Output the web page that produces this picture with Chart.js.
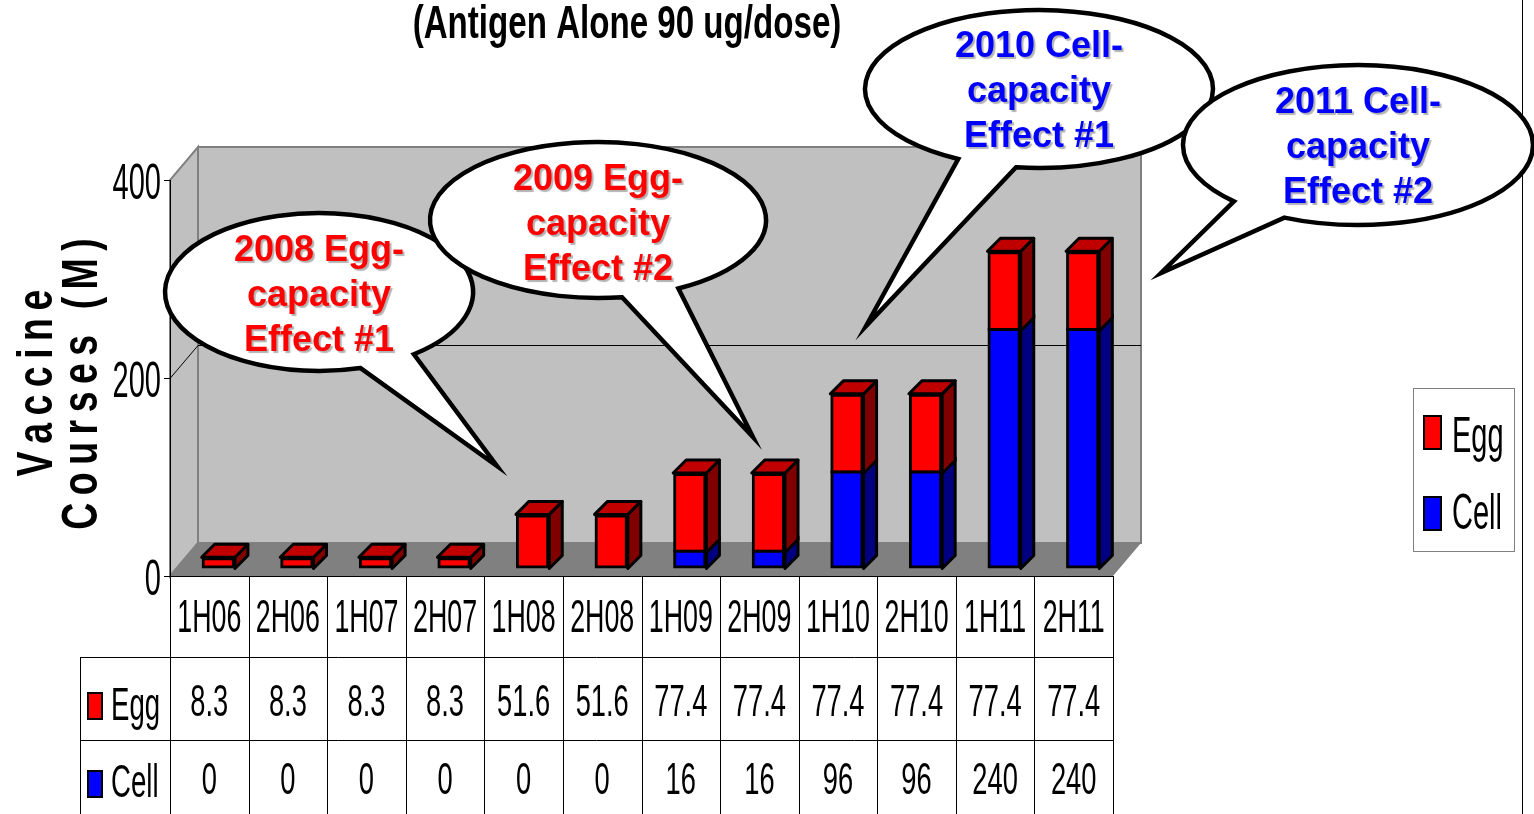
<!DOCTYPE html>
<html>
<head>
<meta charset="utf-8">
<script src="https://cdn.jsdelivr.net/npm/chart.js@4/dist/chart.umd.min.js"></script>
<style>
  html, body { margin: 0; padding: 0; background: #fff; }
  #wrap { width: 1534px; height: 814px; position: relative; }
</style>
</head>
<body>
<div id="wrap"><canvas id="coursesChart"></canvas></div>
<script>
// data
const periods = ['1H06', '2H06', '1H07', '2H07', '1H08', '2H08', '1H09', '2H09', '1H10', '2H10', '1H11', '2H11'];
const eggCourses = [8.3, 8.3, 8.3, 8.3, 51.6, 51.6, 77.4, 77.4, 77.4, 77.4, 77.4, 77.4];
const cellCourses = [0, 0, 0, 0, 0, 0, 16, 16, 96, 96, 240, 240];
const yTicks = [0, 200, 400];

const titleText = '(Antigen Alone 90 ug/dose)';
const yTitleLines = ['Vaccine', 'Courses (M)'];

// callouts
const bubbles = [
  { lines: ['2008 Egg-', 'capacity', 'Effect #1'], color: '#FF0000', cx: 319, cy: 292, rx: 154, ry: 79, base: [[360, 367], [412, 353]], tip: [497, 466], ty: 261 },
  { lines: ['2009 Egg-', 'capacity', 'Effect #2'], color: '#FF0000', cx: 598, cy: 220, rx: 168, ry: 78, base: [[622, 297], [679, 289]], tip: [753, 437], ty: 190 },
  { lines: ['2010 Cell-', 'capacity', 'Effect #1'], color: '#0000FF', cx: 1039, cy: 89, rx: 174, ry: 79, base: [[957, 160], [1017, 164]], tip: [866, 326], ty: 57 },
  { lines: ['2011 Cell-', 'capacity', 'Effect #2'], color: '#0000FF', cx: 1358, cy: 145, rx: 175, ry: 80, base: [[1237, 200], [1287, 215]], tip: [1161, 273], ty: 113 }
];

const sideColors = { Egg: '#800000', Cell: '#000080' };
const topColors = { Egg: '#C00000', Cell: '#0000C0' };

// 3d offsets
const WALL_DX = 28, WALL_DY = -33;
const BAR_DX = 9, BAR_DY = -9;
const DEPTH_DX = 13, DEPTH_DY = -13;

function narrowText(ctx, s, x, y, font, color, align, sx) {
  ctx.save();
  ctx.translate(x, y);
  ctx.scale(sx, 1);
  ctx.font = font;
  ctx.fillStyle = color;
  ctx.textAlign = align;
  ctx.textBaseline = 'alphabetic';
  ctx.fillText(s, 0, 0);
  ctx.restore();
}

// rotated, condensed and letter-spaced axis title
function spacedVertical(ctx, s, x, y, sx, gap) {
  ctx.save();
  ctx.translate(x, y);
  ctx.rotate(-Math.PI / 2);
  ctx.font = 'bold 50px "Liberation Sans", Arial';
  ctx.fillStyle = '#000';
  ctx.textAlign = 'left';
  const chars = s.split('');
  const widths = chars.map(c => ctx.measureText(c).width * sx);
  const total = widths.reduce((p, w) => p + w, 0) + gap * (chars.length - 1);
  let pos = -total / 2;
  chars.forEach((c, i) => {
    ctx.save();
    ctx.translate(pos, 0);
    ctx.scale(sx, 1);
    ctx.fillText(c, 0, 0);
    ctx.restore();
    pos += widths[i] + gap;
  });
  ctx.restore();
}

function drawFrame(chart) {
  const ctx = chart.ctx;
  const a = chart.chartArea;
  const xs = chart.scales.x, ys = chart.scales.y;
  const y0 = ys.getPixelForValue(yTicks[0]);
  const yTop = ys.getPixelForValue(yTicks[yTicks.length - 1]);

  ctx.save();
  // title
  narrowText(ctx, titleText, 627, 38, 'bold 46px "Liberation Sans", Arial', '#000', 'center', 0.72);

  // side wall
  ctx.fillStyle = '#C0C0C0';
  ctx.strokeStyle = '#808080';
  ctx.lineWidth = 2;
  ctx.beginPath();
  ctx.moveTo(a.left, y0);
  ctx.lineTo(a.left, yTop);
  ctx.lineTo(a.left + WALL_DX, yTop + WALL_DY);
  ctx.lineTo(a.left + WALL_DX, y0 + WALL_DY);
  ctx.closePath();
  ctx.fill();
  ctx.stroke();
  // back wall
  ctx.beginPath();
  ctx.rect(a.left + WALL_DX, yTop + WALL_DY, a.right - a.left, y0 - yTop);
  ctx.fill();
  ctx.stroke();
  // floor
  ctx.fillStyle = '#808080';
  ctx.beginPath();
  ctx.moveTo(a.left, y0);
  ctx.lineTo(a.left + WALL_DX, y0 + WALL_DY);
  ctx.lineTo(a.right + WALL_DX, y0 + WALL_DY);
  ctx.lineTo(a.right, y0);
  ctx.closePath();
  ctx.fill();

  // inner grid lines
  ctx.strokeStyle = '#000';
  ctx.lineWidth = 1;
  yTicks.slice(1, -1).forEach(v => {
    const py = Math.round(ys.getPixelForValue(v)) + 0.5;
    ctx.beginPath();
    ctx.moveTo(a.left, py);
    ctx.lineTo(a.left + WALL_DX, py + WALL_DY);
    ctx.lineTo(a.right + WALL_DX, py + WALL_DY);
    ctx.stroke();
  });

  // y axis + ticks
  ctx.beginPath();
  ctx.moveTo(a.left + 0.5, yTop);
  ctx.lineTo(a.left + 0.5, 814);
  ctx.stroke();
  yTicks.forEach(v => {
    const py = Math.round(ys.getPixelForValue(v)) + 0.5;
    ctx.beginPath();
    ctx.moveTo(a.left - 6, py);
    ctx.lineTo(a.left, py);
    ctx.stroke();
    narrowText(ctx, String(v), a.left - 9, py + 18, '50px "Liberation Sans", Arial', '#000', 'right', 0.58);
  });

  // y title
  spacedVertical(ctx, yTitleLines[0], 52, 383, 0.75, 7.5);
  spacedVertical(ctx, yTitleLines[1], 97, 384, 0.75, 7.5);

  // data table
  const n = periods.length;
  const colW = (a.right - a.left) / n;
  const rowTop = y0, row1 = 657, row2 = 740, rowBot = 814;
  ctx.strokeStyle = '#000';
  ctx.lineWidth = 1;
  ctx.beginPath();
  ctx.moveTo(a.left, rowTop + 0.5);
  ctx.lineTo(a.right, rowTop + 0.5);
  [row1, row2].forEach(r => {
    ctx.moveTo(80, r + 0.5);
    ctx.lineTo(a.right, r + 0.5);
  });
  for (let i = 0; i <= n; i++) {
    const px = Math.round(a.left + i * colW) + 0.5;
    ctx.moveTo(px, rowTop);
    ctx.lineTo(px, rowBot);
  }
  ctx.moveTo(80.5, row1);
  ctx.lineTo(80.5, rowBot);
  ctx.stroke();

  const eggDs = chart.data.datasets[1], cellDs = chart.data.datasets[0];
  periods.forEach((p, i) => {
    const cx = xs.getPixelForValue(i);
    narrowText(ctx, p, cx, 632, '47px "Liberation Sans", Arial', '#000', 'center', 0.57);
    narrowText(ctx, String(eggDs.data[i]), cx, 716, '44px "Liberation Sans", Arial', '#000', 'center', 0.62);
    narrowText(ctx, String(cellDs.data[i]), cx, 794, '44px "Liberation Sans", Arial', '#000', 'center', 0.62);
  });

  // row labels with swatches
  [[eggDs, 693, 720], [cellDs, 771, 797]].forEach(([ds, sy, by]) => {
    ctx.fillStyle = ds.backgroundColor;
    ctx.fillRect(88, sy, 14, 26);
    ctx.lineWidth = 2;
    ctx.strokeStyle = '#000';
    ctx.strokeRect(88, sy, 14, 26);
    narrowText(ctx, ds.label, 111, by, '46px "Liberation Sans", Arial', '#000', 'left', 0.6);
  });

  // legend
  ctx.lineWidth = 1;
  ctx.strokeStyle = '#808080';
  ctx.strokeRect(1413.5, 388.5, 101, 163);
  [[eggDs, 416, 452], [cellDs, 497, 529]].forEach(([ds, sy, by]) => {
    ctx.fillStyle = ds.backgroundColor;
    ctx.fillRect(1424, sy, 17, 33);
    ctx.lineWidth = 2;
    ctx.strokeStyle = '#000';
    ctx.strokeRect(1424, sy, 17, 33);
    narrowText(ctx, ds.label, 1452, by, '50px "Liberation Sans", Arial', '#000', 'left', 0.58);
  });

  // page edge line
  ctx.lineWidth = 1;
  ctx.strokeStyle = '#000';
  ctx.beginPath();
  ctx.moveTo(1522.5, 0);
  ctx.lineTo(1522.5, 814);
  ctx.stroke();
  ctx.restore();
}

function drawBubble(ctx, b) {
  const ang = p => Math.atan2((p[1] - b.cy) / b.ry, (p[0] - b.cx) / b.rx);
  let tA = ang(b.base[0]), tB = ang(b.base[1]);
  let d = ((tB - tA) % (2 * Math.PI) + 2 * Math.PI) % (2 * Math.PI);
  if (d < Math.PI) { const t = tA; tA = tB; tB = t; }
  ctx.save();
  ctx.beginPath();
  ctx.ellipse(b.cx, b.cy, b.rx, b.ry, 0, tA, tB, false);
  ctx.lineTo(b.tip[0], b.tip[1]);
  ctx.closePath();
  ctx.fillStyle = '#fff';
  ctx.fill();
  ctx.lineWidth = 4.5;
  ctx.lineJoin = 'miter';
  ctx.strokeStyle = '#000';
  ctx.stroke();

  ctx.font = 'bold 36px "Liberation Sans", Arial';
  ctx.textAlign = 'center';
  ctx.fillStyle = b.color;
  ctx.shadowColor = 'rgba(0,0,0,0.3)';
  ctx.shadowOffsetX = 2;
  ctx.shadowOffsetY = 2;
  ctx.shadowBlur = 1;
  b.lines.forEach((l, i) => ctx.fillText(l, b.cx, b.ty + i * 45));
  ctx.restore();
}

const threeD = {
  id: 'threeD',
  beforeDatasetsDraw(chart) {
    drawFrame(chart);
    chart.ctx.save();
    chart.ctx.translate(BAR_DX, BAR_DY);
  },
  afterDatasetsDraw(chart) {
    const ctx = chart.ctx;
    const metas = chart.getSortedVisibleDatasetMetas();
    const inf = 1.5;
    periods.forEach((p, i) => {
      let topMeta = null;
      metas.forEach(m => { if (chart.data.datasets[m.index].data[i] > 0) topMeta = m; });
      metas.forEach(m => {
        const ds = chart.data.datasets[m.index];
        if (!(ds.data[i] > 0)) return;
        const el = m.data[i];
        const l = el.x - el.width / 2 - inf, r = el.x + el.width / 2 + inf;
        const t = Math.min(el.y, el.base) - inf, btm = Math.max(el.y, el.base) + inf;
        ctx.lineWidth = 3;
        ctx.lineJoin = 'round';
        ctx.strokeStyle = '#000';
        ctx.fillStyle = sideColors[ds.label];
        ctx.beginPath();
        ctx.moveTo(r, t);
        ctx.lineTo(r + DEPTH_DX, t + DEPTH_DY);
        ctx.lineTo(r + DEPTH_DX, btm + DEPTH_DY);
        ctx.lineTo(r, btm);
        ctx.closePath();
        ctx.fill();
        ctx.stroke();
        if (m === topMeta) {
          ctx.fillStyle = topColors[ds.label];
          ctx.beginPath();
          ctx.moveTo(l, t);
          ctx.lineTo(l + DEPTH_DX, t + DEPTH_DY);
          ctx.lineTo(r + DEPTH_DX, t + DEPTH_DY);
          ctx.lineTo(r, t);
          ctx.closePath();
          ctx.fill();
          ctx.stroke();
        }
      });
    });
    ctx.restore();
  },
  afterDraw(chart) {
    bubbles.forEach(b => drawBubble(chart.ctx, b));
  }
};

const ctx = document.getElementById('coursesChart');

new Chart(ctx, {
  type: 'bar',
  data: {
    labels: periods,
    datasets: [
      { label: 'Cell', data: cellCourses, backgroundColor: '#0000FF' },
      { label: 'Egg', data: eggCourses, backgroundColor: '#FF0000' }
    ]
  },
  options: {
    responsive: true,
    maintainAspectRatio: false,
    animation: false,
    events: [],
    layout: { padding: { left: 170, right: 421, top: 180, bottom: 238 } },
    datasets: {
      bar: {
        categoryPercentage: 1,
        barPercentage: 0.385,
        borderColor: '#000',
        borderWidth: 3,
        borderSkipped: false,
        inflateAmount: 1.5,
        clip: false
      }
    },
    scales: {
      x: { stacked: true, display: false },
      y: { stacked: true, display: false, min: 0, max: 400 }
    },
    plugins: {
      legend: { display: false },
      tooltip: { enabled: false }
    }
  },
  plugins: [threeD]
});
</script>
</body>
</html>
